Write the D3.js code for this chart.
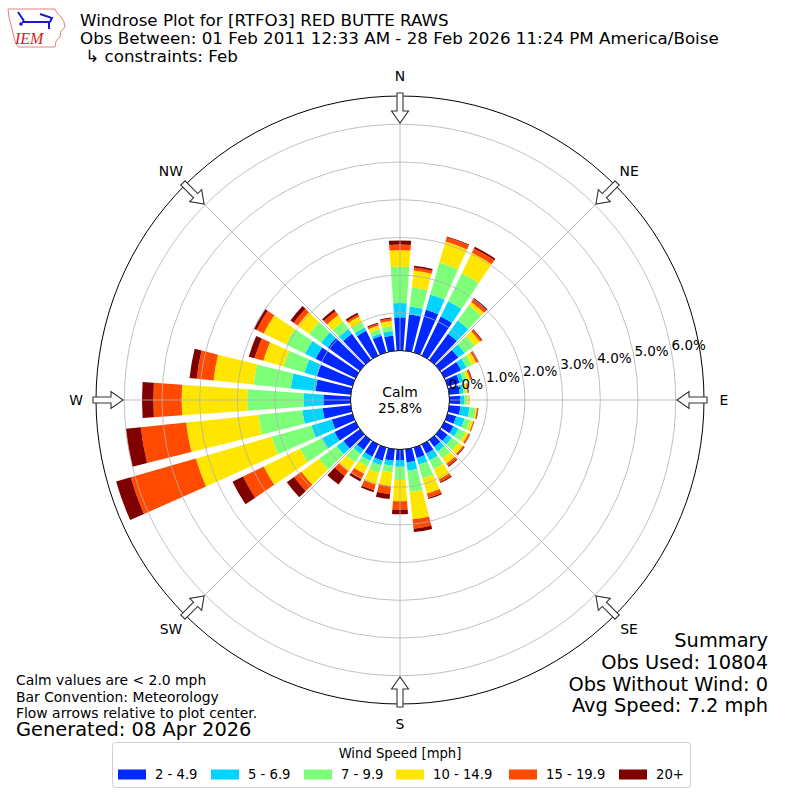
<!DOCTYPE html>
<html>
<head>
<meta charset="utf-8">
<script src="https://cdn.jsdelivr.net/npm/d3@7"></script>
<style>
body { margin: 0; background: #fff; }
svg text { font-family: "DejaVu Sans", sans-serif; fill: #000; }
</style>
</head>
<body>
<svg id="chart" width="800" height="800"></svg>
<script>
// wind direction bins (degrees, meteorological)
var directions = [0, 10, 20, 30, 40, 50, 60, 70, 80, 90, 100, 110,
                  120, 130, 140, 150, 160, 170, 180, 190, 200, 210, 220, 230,
                  240, 250, 260, 270, 280, 290, 300, 310, 320, 330, 340, 350];

var speed_bins = ["2 - 4.9", "5 - 6.9", "7 - 9.9", "10 - 14.9", "15 - 19.9", "20+"];

// percent of obs for each speed bin, by direction
var pct_2_5 = [0.88, 0.97, 1.18, 1.15, 0.86, 0.60, 0.49, 0.33, 0.28, 0.28, 0.30, 0.24,
               0.27, 0.25, 0.23, 0.27, 0.29, 0.35, 0.28, 0.31, 0.36, 0.36, 0.33, 0.54,
               0.62, 0.57, 0.75, 0.72, 0.94, 0.98, 1.18, 1.05, 0.86, 0.73, 0.46, 0.41];
var pct_5_7 = [0.38, 0.21, 0.42, 0.45, 0.43, 0.21, 0.16, 0.11, 0.10, 0.11, 0.24, 0.23,
               0.15, 0.14, 0.15, 0.20, 0.18, 0.22, 0.18, 0.13, 0.13, 0.13, 0.13, 0.22,
               0.36, 0.56, 0.54, 0.53, 0.66, 0.34, 0.31, 0.22, 0.16, 0.10, 0.06, 0.12];
var pct_7_10 = [0.96, 0.51, 0.88, 0.83, 0.50, 0.32, 0.16, 0.10, 0.06, 0.09, 0.17, 0.16,
                0.20, 0.22, 0.22, 0.26, 0.38, 0.58, 0.35, 0.18, 0.21, 0.16, 0.27, 0.58,
                0.66, 1.10, 1.17, 1.49, 0.99, 0.58, 0.56, 0.40, 0.24, 0.15, 0.12, 0.13];
var pct_10_15 = [0.44, 0.45, 0.58, 0.60, 0.11, 0.18, 0.13, 0.08, 0.05, 0.04, 0.03, 0.08,
                 0.09, 0.14, 0.18, 0.30, 0.42, 0.72, 0.56, 0.36, 0.32, 0.21, 0.29, 0.58,
                 1.07, 2.09, 1.93, 1.74, 1.07, 0.56, 0.66, 0.37, 0.21, 0.17, 0.10, 0.14];
var pct_15_20 = [0.15, 0.08, 0.12, 0.13, 0.08, 0.06, 0.05, 0.04, 0.03, 0.01, 0.03, 0.02,
                 0.04, 0.04, 0.07, 0.08, 0.12, 0.25, 0.23, 0.22, 0.16, 0.16, 0.16, 0.24,
                 0.61, 1.80, 1.21, 0.75, 0.45, 0.24, 0.21, 0.13, 0.13, 0.06, 0.05, 0.06];
var pct_20p = [0.11, 0.05, 0.02, 0.05, 0.05, 0.02, 0.02, 0.02, 0.01, 0.00, 0.01, 0.01,
               0.01, 0.02, 0.03, 0.03, 0.03, 0.09, 0.12, 0.13, 0.05, 0.07, 0.28, 0.24,
               0.31, 0.40, 0.40, 0.30, 0.19, 0.16, 0.08, 0.11, 0.06, 0.05, 0.03, 0.03];

var calm_pct = 25.8;
var ring_ticks = [0, 1, 2, 3, 4, 5, 6];
var compass_labels = ["N", "NE", "E", "SE", "S", "SW", "W", "NW"];
var compass_angles = [0, 45, 90, 135, 180, 225, 270, 315];

var summary_lines = ["Summary", "Obs Used: 10804", "Obs Without Wind: 0", "Avg Speed: 7.2 mph"];
var note_lines = ["Calm values are < 2.0 mph", "Bar Convention: Meteorology",
                  "Flow arrows relative to plot center."];

var bin_colors = ["#0028ff", "#00d4ff", "#7dff7a", "#ffe600", "#ff4a00", "#800000"];

var svg = d3.select("#chart");
var cx = 400, cy = 400;
var rad = Math.PI / 180;

// radial scale, 0% sits on the calm circle
var r = d3.scaleLinear().domain([0, 6.75]).range([49.5, 304]);

// build table for d3.stack
var keys = ["b0", "b1", "b2", "b3", "b4", "b5"];
var series = [pct_2_5, pct_5_7, pct_7_10, pct_10_15, pct_15_20, pct_20p];
var rows = directions.map(function(d, i) {
    var row = {dir: d};
    keys.forEach(function(k, j) { row[k] = series[j][i]; });
    return row;
});
var stacked = d3.stack().keys(keys)(rows);

var plot = svg.append("g").attr("transform", "translate(" + cx + "," + cy + ")");

// bars
var arc = d3.arc();
var half_width = 4 * rad;
stacked.forEach(function(layer, k) {
    plot.append("g").selectAll("path").data(layer).enter().append("path")
        .attr("d", function(d) {
            var a = d.data.dir * rad;
            return arc({innerRadius: r(d[0]), outerRadius: r(d[1]),
                        startAngle: a - half_width, endAngle: a + half_width});
        })
        .attr("fill", bin_colors[k]);
});

// grid on top of the bars, like matplotlib does
plot.append("g").selectAll("circle").data(ring_ticks.slice(1)).enter().append("circle")
    .attr("r", function(d) { return r(d); })
    .attr("fill", "none").attr("stroke", "#b0b0b0").attr("stroke-width", 0.8);

plot.append("g").selectAll("line").data(compass_angles).enter().append("line")
    .attr("x1", 0).attr("y1", 0)
    .attr("x2", function(d) { return 304 * Math.sin(d * rad); })
    .attr("y2", function(d) { return -304 * Math.cos(d * rad); })
    .attr("stroke", "#b0b0b0").attr("stroke-width", 0.8);

plot.append("circle").attr("r", 304).attr("fill", "none")
    .attr("stroke", "#000").attr("stroke-width", 1);

// calm circle
plot.append("circle").attr("r", r(0)).attr("fill", "#fff")
    .attr("stroke", "#000").attr("stroke-width", 1);
plot.append("text").attr("x", 0).attr("y", -3).attr("text-anchor", "middle")
    .style("font-size", "13.9px").text("Calm");
plot.append("text").attr("x", 0).attr("y", 13).attr("text-anchor", "middle")
    .style("font-size", "13.9px").text(calm_pct.toFixed(1) + "%");

// ring labels along 80 degrees
var lab_angle = 80 * rad;
plot.append("g").selectAll("text").data(ring_ticks).enter().append("text")
    .attr("x", function(d) { return r(d) * Math.sin(lab_angle); })
    .attr("y", function(d) { return -r(d) * Math.cos(lab_angle) - 2.5; })
    .style("font-size", "13.5px")
    .text(function(d) { return d.toFixed(1) + "%"; });

// compass labels
plot.append("g").selectAll("text").data(compass_angles).enter().append("text")
    .attr("x", function(d) { return 324 * Math.sin(d * rad); })
    .attr("y", function(d) { return -324 * Math.cos(d * rad) + 5; })
    .attr("text-anchor", "middle")
    .style("font-size", "13.9px")
    .text(function(d, i) { return compass_labels[i]; });

// flow arrows pointing to the center
var arrow_shape = [[307, -3], [289, -3], [289, -8.5], [277, 0], [289, 8.5], [289, 3], [307, 3]];
plot.append("g").selectAll("path").data(compass_angles).enter().append("path")
    .attr("d", function(d) {
        var s = Math.sin(d * rad), c = Math.cos(d * rad);
        return "M" + arrow_shape.map(function(p) {
            return [p[0] * s + p[1] * c, -p[0] * c + p[1] * s].join(",");
        }).join("L") + "Z";
    })
    .attr("fill", "#fff").attr("stroke", "#333").attr("stroke-width", 1.1);

// titles
var titles = ["Windrose Plot for [RTFO3] RED BUTTE RAWS",
              "Obs Between: 01 Feb 2011 12:33 AM - 28 Feb 2026 11:24 PM America/Boise",
              " \u21b3 constraints: Feb"];
svg.append("g").selectAll("text").data(titles).enter().append("text")
    .attr("x", 80).attr("y", function(d, i) { return 26 + i * 18; })
    .attr("xml:space", "preserve")
    .style("font-size", "16.7px")
    .style("white-space", "pre")
    .text(function(d) { return d; });

// IEM logo (rough)
var logo = svg.append("g");
logo.append("path")
    .attr("d", "M8,9 L55,9 L57,13 L61,17 L64,22 L65,27 L61,31 L60,37 L56,41 L55,47 L18,47 L15,41 L13,33 L11,25 L9,17 Z")
    .attr("fill", "none").attr("stroke", "#e28080").attr("stroke-width", 1);
logo.append("path").attr("d", "M18,12 L24,21 M22,22 L50,22 M40,14 L52,18 L50,22 M49,23 L49,29")
    .attr("fill", "none").attr("stroke", "#1a1acc").attr("stroke-width", 2);
logo.append("circle").attr("cx", 21).attr("cy", 24).attr("r", 1.8).attr("fill", "#1a1acc");
logo.append("text").attr("x", 15).attr("y", 44)
    .style("font-family", "'Liberation Serif', serif").style("font-style", "italic")
    .style("font-size", "16px").style("fill", "#d42020").text("IEM");

// notes, bottom left
svg.append("g").selectAll("text").data(note_lines).enter().append("text")
    .attr("x", 16).attr("y", function(d, i) { return 685 + i * 16.5; })
    .style("font-size", "13.9px")
    .text(function(d) { return d; });
svg.append("text").attr("x", 16).attr("y", 736)
    .style("font-size", "19.4px").text("Generated: 08 Apr 2026");

// summary, bottom right
svg.append("g").selectAll("text").data(summary_lines).enter().append("text")
    .attr("x", 768).attr("y", function(d, i) { return 647 + i * 21.8; })
    .attr("text-anchor", "end")
    .style("font-size", "19.4px")
    .text(function(d) { return d; });

// legend
var legend = svg.append("g");
legend.append("rect").attr("x", 112.5).attr("y", 742.5).attr("width", 578).attr("height", 45)
    .attr("rx", 3).attr("fill", "#fff").attr("stroke", "#d0d0d0").attr("stroke-width", 1);
legend.append("text").attr("x", 400).attr("y", 758).attr("text-anchor", "middle")
    .style("font-size", "13.2px").text("Wind Speed [mph]");
var leg_x = [118, 211, 304, 396, 509, 619];
var items = legend.selectAll("g.item").data(speed_bins).enter().append("g").attr("class", "item")
    .attr("transform", function(d, i) { return "translate(" + leg_x[i] + ",0)"; });
items.append("rect").attr("x", 0).attr("y", 769.5).attr("width", 28).attr("height", 10)
    .attr("fill", function(d, i) { return bin_colors[i]; });
items.append("text").attr("x", 37).attr("y", 779)
    .style("font-size", "13.2px").text(function(d) { return d; });
</script>
</body>
</html>
